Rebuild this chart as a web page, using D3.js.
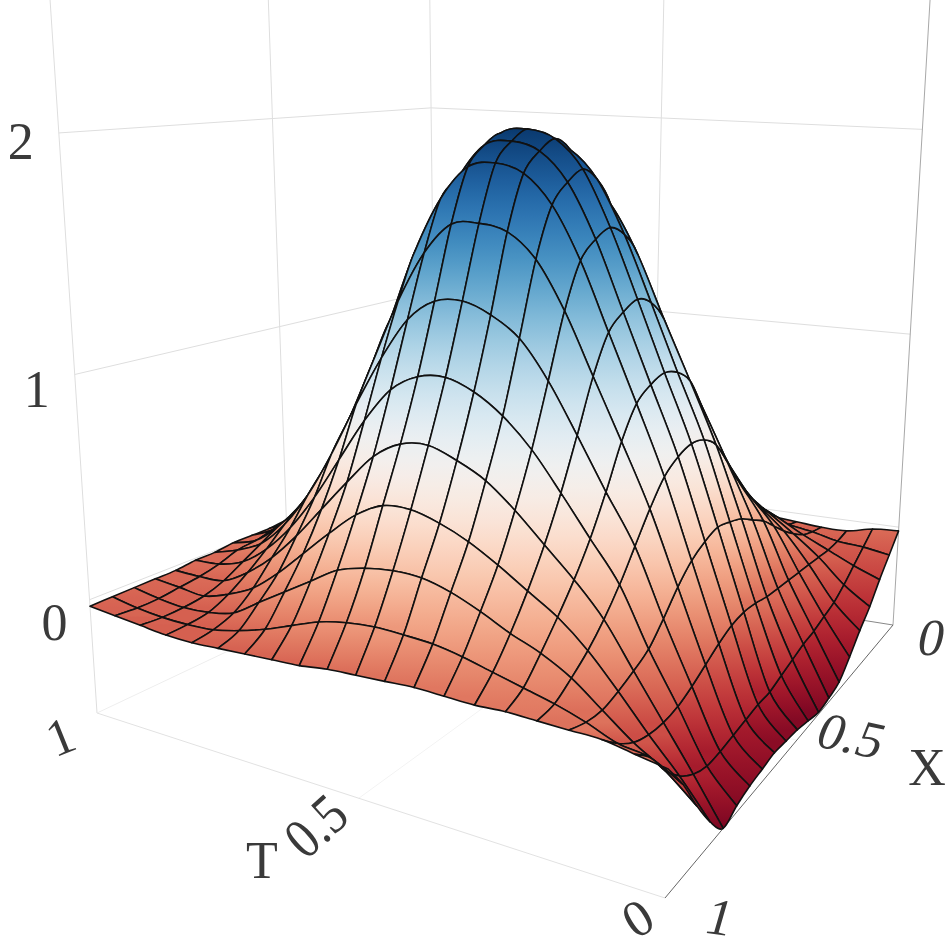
<!DOCTYPE html>
<html>
<head>
<meta charset="utf-8">
<script src="https://cdn.jsdelivr.net/npm/d3@7"></script>
<style>
    html, body { margin: 0; padding: 0; background: #fff; }
    svg { display: block; }
    text { font-family: "Liberation Serif", serif; fill: #3a3a3a; font-size: 52px; }
</style>
</head>
<body>
<svg id="chart" width="952" height="952"></svg>
<script>
"use strict";
// surface samples. columns run X = 0 .. 1, one row per T
const tGrid = [0, 0.05, 0.1, 0.15, 0.2, 0.25, 0.3, 0.35, 0.4, 0.45, 0.5, 0.55, 0.6, 0.65, 0.7, 0.75, 0.8, 0.85, 0.9, 0.95, 1];
const xGrid = [0, 0.05, 0.1, 0.15, 0.2, 0.25, 0.3, 0.35, 0.4, 0.45, 0.5, 0.55, 0.6, 0.65, 0.7, 0.75, 0.8, 0.85, 0.9, 0.95, 1];

const zT000 = [-0.02, -0.1, -0.18, -0.27, -0.34, -0.42, -0.49, -0.51, -0.52, -0.5, -0.48, -0.47, -0.46, -0.47, -0.48, -0.5, -0.53, -0.43, -0.29, -0.13, 0];
const zT005 = [-0.03, -0.08, -0.13, -0.18, -0.22, -0.24, -0.26, -0.27, -0.29, -0.31, -0.33, -0.33, -0.34, -0.35, -0.36, -0.36, -0.33, -0.27, -0.18, -0.06, 0.02];
const zT010 = [-0.06, -0.07, -0.07, -0.06, -0.05, -0.04, -0.03, -0.02, -0.01, 0.01, 0.02, 0.01, -0.02, -0.06, -0.1, -0.13, -0.14, -0.13, -0.1, -0.04, 0.04];
const zT015 = [-0.06, -0.04, -0.01, 0.04, 0.1, 0.17, 0.24, 0.29, 0.34, 0.37, 0.39, 0.37, 0.33, 0.26, 0.17, 0.09, 0.05, 0.02, 0, 0.01, 0.04];
const zT020 = [-0.05, -0.02, 0.06, 0.13, 0.21, 0.31, 0.42, 0.55, 0.67, 0.73, 0.75, 0.73, 0.68, 0.58, 0.46, 0.34, 0.24, 0.16, 0.1, 0.05, 0.04];
const zT025 = [-0.04, 0, 0.12, 0.22, 0.34, 0.48, 0.63, 0.8, 0.95, 1.02, 1.05, 1.03, 0.98, 0.85, 0.67, 0.51, 0.38, 0.27, 0.17, 0.08, 0.04];
const zT030 = [-0.03, 0.03, 0.17, 0.3, 0.45, 0.62, 0.82, 1.03, 1.22, 1.32, 1.36, 1.33, 1.27, 1.11, 0.89, 0.68, 0.5, 0.35, 0.22, 0.11, 0.03];
const zT035 = [-0.03, 0.05, 0.22, 0.37, 0.55, 0.76, 0.99, 1.26, 1.5, 1.61, 1.66, 1.63, 1.56, 1.37, 1.1, 0.84, 0.62, 0.43, 0.28, 0.14, 0.03];
const zT040 = [-0.02, 0.06, 0.25, 0.43, 0.64, 0.87, 1.14, 1.45, 1.71, 1.84, 1.9, 1.86, 1.78, 1.57, 1.26, 0.96, 0.72, 0.5, 0.33, 0.16, 0.03];
const zT045 = [-0.02, 0.07, 0.27, 0.46, 0.68, 0.93, 1.21, 1.54, 1.82, 1.96, 2.02, 1.98, 1.9, 1.67, 1.34, 1.04, 0.78, 0.55, 0.36, 0.165, 0.02];
const zT050 = [-0.02, 0.07, 0.28, 0.47, 0.7, 0.94, 1.23, 1.56, 1.85, 1.99, 2.05, 2.01, 1.93, 1.69, 1.38, 1.08, 0.82, 0.58, 0.36, 0.165, 0.01];
const zT055 = [-0.02, 0.07, 0.27, 0.46, 0.68, 0.93, 1.21, 1.54, 1.82, 1.96, 2.02, 1.98, 1.9, 1.67, 1.36, 1.06, 0.8, 0.57, 0.34, 0.15, 0];
const zT060 = [-0.02, 0.06, 0.25, 0.43, 0.63, 0.86, 1.12, 1.41, 1.67, 1.8, 1.86, 1.82, 1.75, 1.53, 1.26, 0.98, 0.72, 0.5, 0.3, 0.12, -0.02];
const zT065 = [-0.02, 0.05, 0.22, 0.37, 0.54, 0.74, 0.96, 1.22, 1.44, 1.55, 1.6, 1.57, 1.5, 1.3, 1.07, 0.82, 0.58, 0.39, 0.22, 0.07, -0.03];
const zT070 = [-0.01, 0.04, 0.17, 0.29, 0.42, 0.57, 0.75, 0.95, 1.12, 1.21, 1.25, 1.22, 1.17, 1.01, 0.84, 0.62, 0.43, 0.27, 0.14, 0.02, -0.04];
const zT075 = [-0.01, 0.03, 0.13, 0.21, 0.31, 0.42, 0.55, 0.7, 0.83, 0.89, 0.92, 0.9, 0.85, 0.72, 0.59, 0.42, 0.28, 0.15, 0.06, -0.02, -0.05];
const zT080 = [0, 0.02, 0.09, 0.14, 0.21, 0.29, 0.37, 0.47, 0.56, 0.6, 0.62, 0.6, 0.56, 0.47, 0.37, 0.25, 0.15, 0.05, -0.02, -0.05, -0.06];
const zT085 = [0, 0.01, 0.05, 0.09, 0.13, 0.17, 0.23, 0.29, 0.34, 0.37, 0.38, 0.36, 0.33, 0.27, 0.2, 0.12, 0.05, -0.01, -0.05, -0.06, -0.06];
const zT090 = [0, 0.01, 0.03, 0.05, 0.07, 0.09, 0.12, 0.15, 0.18, 0.19, 0.2, 0.19, 0.16, 0.13, 0.08, 0.03, -0.02, -0.05, -0.06, -0.06, -0.05];
const zT095 = [0, 0, 0.01, 0.02, 0.02, 0.03, 0.04, 0.05, 0.06, 0.07, 0.07, 0.06, 0.05, 0.03, 0.02, -0.01, -0.03, -0.04, -0.05, -0.05, -0.04];
const zT100 = [0, 0, 0, 0, 0, 0, 0, 0, 0, 0, 0, -0.01, -0.01, -0.01, -0.02, -0.02, -0.03, -0.03, -0.03, -0.03, -0.03];
const zRows = [zT000, zT005, zT010, zT015, zT020, zT025, zT030, zT035, zT040, zT045, zT050,
    zT055, zT060, zT065, zT070, zT075, zT080, zT085, zT090, zT095, zT100];

const zTicks = [0, 1, 2];
const zFloor = -0.53;
const zTop = 2.7;

// camera: floor corners on screen + how far each corner is (projective weights)
const camera = {
    front: [665, 898],   // T=0, X=1
    right: [893, 625],   // T=0, X=0
    left: [97, 713],     // T=1, X=1
    g: 0.17, h: 0.37, r: -0.03887,
    vanish: [513, 7034],
    warp: 38
};

const tScale = d3.scaleLinear().domain([0, 1]).range([0, 1]);
const xScale = d3.scaleLinear().domain([1, 0]).range([0, 1]);
const zScale = d3.scaleLinear().domain([zFloor, 2]).range([0, 2 - zFloor]);
const color = d3.scaleSequential(d3.interpolateRdBu).domain([-0.6, 2.1]);

function weight(T, X, z) {
    return 1 + camera.g * tScale(T) + camera.h * xScale(X) + camera.r * zScale(z);
}

function project(T, X, z) {
    const u = tScale(T), v = xScale(X), h = zScale(z);
    const [fx, fy] = camera.front, [lx, ly] = camera.left, [rx, ry] = camera.right;
    const w = weight(T, X, z);
    const px = (lx * (1 + camera.g) - fx) * u + (rx * (1 + camera.h) - fx) * v + fx + camera.vanish[0] * camera.r * h;
    const py = (ly * (1 + camera.g) - fy) * u + (ry * (1 + camera.h) - fy) * v + fy + camera.vanish[1] * camera.r * h;
    return [px / w, py / w + camera.warp * u * v];
}

const svg = d3.select("#chart");
const defs = svg.append("defs");
const line = d3.line();

// walls and floor
const axes = svg.append("g").attr("fill", "none");
function seg(a, b, stroke, width) {
    axes.append("path").attr("d", line([project(...a), project(...b)]))
        .attr("stroke", stroke).attr("stroke-width", width);
}
const wallColor = "#dedede";
for (let z of zTicks) {
    seg([1, 1, z], [1, 0, z], wallColor, 1);
    seg([1, 0, z], [0, 0, z], wallColor, 1);
}
seg([1, 1, zFloor], [1, 1, zTop], wallColor, 1);
seg([1, 0.5, zFloor], [1, 0.5, zTop], wallColor, 1);
seg([1, 0, zFloor], [1, 0, zTop], wallColor, 1);
seg([0.5, 0, zFloor], [0.5, 0, zTop], wallColor, 1);
seg([0, 0, zFloor], [0, 0, zTop], "#a8a8a8", 1);
seg([1, 1, zFloor], [1, 0, zFloor], "#eeeeee", 1);
seg([1, 0, zFloor], [0, 0, zFloor], "#888888", 1);
seg([0.5, 1, zFloor], [0.5, 0, zFloor], "#f3f3f3", 1);
seg([0, 0.5, zFloor], [1, 0.5, zFloor], "#f3f3f3", 1);
seg([1, 1, zFloor], [0, 1, zFloor], "#e2e2e2", 1);
seg([0, 1, zFloor], [0, 0, zFloor], "#666666", 1);

// screen position of each node
const grid = tGrid.map((T, i) => xGrid.map((X, j) => project(T, X, zRows[i][j])));

// catmull-rom piece between two neighbouring nodes, so the mesh lines stay round
function controls(list, k) {
    const p0 = list[Math.max(k - 1, 0)], p1 = list[k], p2 = list[k + 1], p3 = list[Math.min(k + 2, list.length - 1)];
    return [
        [p1[0] + (p2[0] - p0[0]) / 6, p1[1] + (p2[1] - p0[1]) / 6],
        [p2[0] - (p3[0] - p1[0]) / 6, p2[1] - (p3[1] - p1[1]) / 6]
    ];
}
const fwd = (c, to) => `C${c[0]} ${c[1]} ${to}`;
const bwd = (c, to) => `C${c[1]} ${c[0]} ${to}`;

function cellPath(i, j) {
    const colA = grid.map(r => r[j]), colB = grid.map(r => r[j + 1]);
    return `M${grid[i][j]}`
        + fwd(controls(colA, i), grid[i + 1][j])
        + fwd(controls(grid[i + 1], j), grid[i + 1][j + 1])
        + bwd(controls(colB, i), grid[i][j + 1])
        + bwd(controls(grid[i], j), grid[i][j]) + "Z";
}

// surface cells, painted from far to near
let cells = [];
for (let i = 0; i < tGrid.length - 1; i++) {
    for (let j = 0; j < xGrid.length - 1; j++) {
        const nodes = [[i, j], [i + 1, j], [i + 1, j + 1], [i, j + 1]]
            .map(([a, b]) => ({T: tGrid[a], X: xGrid[b], z: zRows[a][b]}));
        cells.push({
            id: `cell-${i}-${j}`,
            nodes: nodes,
            d: cellPath(i, j),
            depth: d3.mean(nodes, n => weight(n.T, n.X, n.z))
        });
    }
}
cells.sort((a, b) => b.depth - a.depth);

const stops = [0, 0.25, 0.5, 0.75, 1];
for (let c of cells) {
    const lo = d3.least(c.nodes, n => n.z), hi = d3.greatest(c.nodes, n => n.z);
    const pLo = project(lo.T, lo.X, lo.z), pHi = project(hi.T, hi.X, hi.z);
    const grad = defs.append("linearGradient").attr("id", c.id)
        .attr("gradientUnits", "userSpaceOnUse")
        .attr("x1", pLo[0]).attr("y1", pLo[1]).attr("x2", pLo[0]).attr("y2", Math.min(pHi[1], pLo[1] - 0.5));
    for (let s of stops) {
        grad.append("stop").attr("offset", s).attr("stop-color", color(lo.z + (hi.z - lo.z) * s));
    }
}

svg.append("g").selectAll("path")
    .data(cells)
    .join("path")
    .attr("d", d => d.d)
    .attr("fill", d => `url(#${d.id})`)
    .attr("stroke", "#111")
    .attr("stroke-width", 1.6)
    .attr("stroke-linejoin", "round");

// labels
function label(txt, pos, dx, dy, transform) {
    const [x, y] = pos;
    svg.append("text")
        .attr("transform", `translate(${x + dx},${y + dy}) ${transform}`)
        .attr("text-anchor", "middle")
        .text(txt);
}
const zLabelDx = [-35, -38, -38], zLabelDy = [40, 33, 26];
zTicks.forEach((z, i) => label(z, project(1, 1, z), zLabelDx[i], zLabelDy[i], ""));
label(0, project(0, 0, zFloor), 35, 30, "skewX(-12)");
label(0.5, project(0, 0.5, zFloor), 48, 12, "rotate(12) skewX(-10)");
label(1, project(0, 1, zFloor), 50, 36, "rotate(8) skewX(-8)");
label(0, project(0, 1, zFloor), -18, 35, "rotate(-32)");
label(0.5, project(0.5, 1, zFloor), -30, 42, "rotate(-42) scale(0.95,1.1)");
label(1, project(1, 1, zFloor), -30, 40, "rotate(-22)");
svg.append("text").attr("x", 262).attr("y", 878).attr("text-anchor", "middle").text("T");
svg.append("text").attr("x", 927).attr("y", 785).attr("text-anchor", "middle").text("X");
</script>
</body>
</html>
